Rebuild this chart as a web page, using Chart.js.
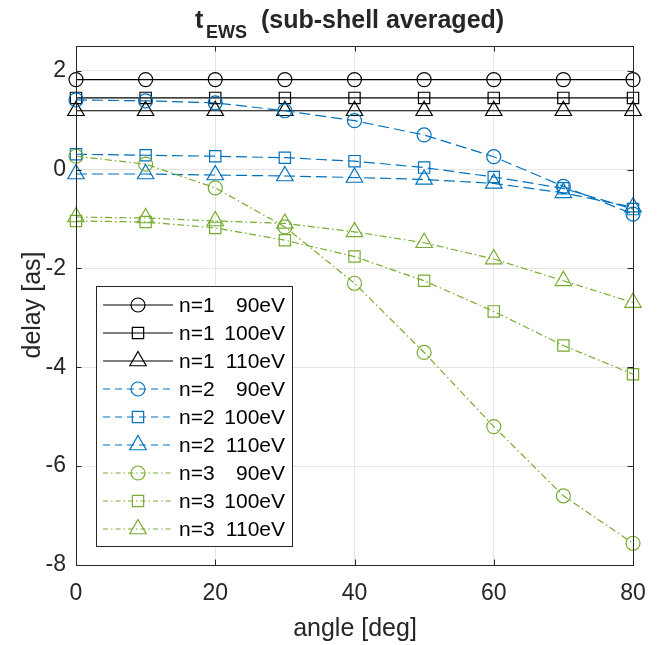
<!DOCTYPE html>
<html>
<head>
<meta charset="utf-8">
<script src="https://cdn.jsdelivr.net/npm/chart.js@4.4.1/dist/chart.umd.min.js"></script>
<style>
  html, body { margin: 0; padding: 0; background: #fff; }
  #chart { display: block; }
</style>
</head>
<body>
<canvas id="chart" width="667" height="645"></canvas>
<script>
// angle [deg]
const angles = [0, 10, 20, 30, 40, 50, 60, 70, 80];

// delay [as]
const n1_90eV  = [1.82, 1.82, 1.82, 1.82, 1.82, 1.82, 1.82, 1.82, 1.82];
const n1_100eV = [1.45, 1.45, 1.45, 1.45, 1.45, 1.45, 1.45, 1.45, 1.45];
const n1_110eV = [1.19, 1.19, 1.19, 1.19, 1.19, 1.19, 1.19, 1.19, 1.19];
const n2_90eV  = [1.41, 1.39, 1.35, 1.19, 0.99, 0.70, 0.26, -0.34, -0.90];
const n2_100eV = [0.31, 0.29, 0.27, 0.24, 0.17, 0.04, -0.15, -0.38, -0.80];
const n2_110eV = [-0.09, -0.09, -0.11, -0.13, -0.16, -0.20, -0.28, -0.47, -0.76];
const n3_90eV  = [0.27, 0.11, -0.37, -1.16, -2.30, -3.70, -5.20, -6.60, -7.56];
const n3_100eV = [-1.04, -1.06, -1.18, -1.43, -1.76, -2.25, -2.87, -3.56, -4.14];
const n3_110eV = [-0.96, -0.98, -1.04, -1.09, -1.26, -1.48, -1.81, -2.25, -2.69];

const seriesNames = ['n=1', 'n=1', 'n=1', 'n=2', 'n=2', 'n=2', 'n=3', 'n=3', 'n=3'];
const seriesEnergies = ['90eV', '100eV', '110eV', '90eV', '100eV', '110eV', '90eV', '100eV', '110eV'];

const xTicks = [0, 20, 40, 60, 80];
const yTicks = [-8, -6, -4, -2, 0, 2];

const BLACK = '#000000';
const BLUE = '#0072BD';
const GREEN = '#77AC30';
const TEXT = '#262626';
const FONT = "'Liberation Sans', Arial, sans-serif";

const styles = [
  { color: BLACK, dash: [], legendDash: [], marker: 'circle' },
  { color: BLACK, dash: [], legendDash: [], marker: 'rect' },
  { color: BLACK, dash: [], legendDash: [], marker: 'triangle' },
  { color: BLUE, dash: [11, 5], legendDash: [7, 5], marker: 'circle' },
  { color: BLUE, dash: [11, 5], legendDash: [7, 5], marker: 'rect' },
  { color: BLUE, dash: [11, 5], legendDash: [7, 5], marker: 'triangle' },
  { color: GREEN, dash: [7, 3, 1.5, 3], legendDash: [5, 3, 1.5, 3], marker: 'circle' },
  { color: GREEN, dash: [7, 3, 1.5, 3], legendDash: [5, 3, 1.5, 3], marker: 'rect' },
  { color: GREEN, dash: [7, 3, 1.5, 3], legendDash: [5, 3, 1.5, 3], marker: 'triangle' }
];

const markerRadius = { circle: 7, rect: 8, triangle: 9.5 };

const allSeries = [n1_90eV, n1_100eV, n1_110eV, n2_90eV, n2_100eV, n2_110eV, n3_90eV, n3_100eV, n3_110eV];

const datasets = allSeries.map((values, i) => ({
  label: `${seriesNames[i]} ${seriesEnergies[i]}`,
  data: values.map((v, k) => ({ x: angles[k], y: v })),
  borderColor: styles[i].color,
  borderWidth: 1.2,
  borderDash: styles[i].dash,
  pointStyle: styles[i].marker,
  pointRadius: markerRadius[styles[i].marker],
  pointHoverRadius: markerRadius[styles[i].marker],
  pointBorderColor: styles[i].color,
  pointBackgroundColor: 'rgba(0,0,0,0)',
  pointBorderWidth: 1.2,
  tension: 0,
  fill: false,
  clip: false,
  order: 9 - i
}));

function drawMarker(ctx, type, x, y, r) {
  ctx.beginPath();
  if (type === 'circle') {
    ctx.arc(x, y, r, 0, Math.PI * 2);
  } else if (type === 'rect') {
    const s = r * Math.SQRT1_2;
    ctx.rect(x - s, y - s, 2 * s, 2 * s);
  } else {
    ctx.moveTo(x, y - r);
    ctx.lineTo(x + r * Math.sin(Math.PI * 2 / 3), y + r / 2);
    ctx.lineTo(x - r * Math.sin(Math.PI * 2 / 3), y + r / 2);
    ctx.closePath();
  }
  ctx.stroke();
}

const decorations = {
  id: 'decorations',
  afterDatasetsDraw(chart) {
    const { ctx, chartArea: a, scales: { x, y } } = chart;
    ctx.save();

    // axes box and inward ticks
    ctx.strokeStyle = TEXT;
    ctx.lineWidth = 1;
    ctx.setLineDash([]);
    ctx.strokeRect(Math.round(a.left) + 0.5, Math.round(a.top) + 0.5,
      Math.round(a.right - a.left), Math.round(a.bottom - a.top));
    const tl = 5.5;
    ctx.beginPath();
    xTicks.forEach(t => {
      const px = Math.round(x.getPixelForValue(t)) + 0.5;
      ctx.moveTo(px, a.bottom); ctx.lineTo(px, a.bottom - tl);
      ctx.moveTo(px, a.top); ctx.lineTo(px, a.top + tl);
    });
    yTicks.forEach(t => {
      const py = Math.round(y.getPixelForValue(t)) + 0.5;
      ctx.moveTo(a.left, py); ctx.lineTo(a.left + tl, py);
      ctx.moveTo(a.right, py); ctx.lineTo(a.right - tl, py);
    });
    ctx.stroke();

    // legend
    const box = { left: 96.5, top: 286.5, right: 292.5, bottom: 546.5 };
    ctx.fillStyle = '#ffffff';
    ctx.fillRect(box.left, box.top, box.right - box.left, box.bottom - box.top);
    ctx.strokeStyle = TEXT;
    ctx.lineWidth = 1;
    ctx.strokeRect(box.left, box.top, box.right - box.left, box.bottom - box.top);
    ctx.font = `21px ${FONT}`;
    ctx.textBaseline = 'middle';
    styles.forEach((st, i) => {
      const ry = 305 + i * 28;
      ctx.strokeStyle = st.color;
      ctx.lineWidth = 1.2;
      ctx.setLineDash(st.legendDash);
      ctx.beginPath();
      ctx.moveTo(103, ry); ctx.lineTo(173, ry);
      ctx.stroke();
      ctx.setLineDash([]);
      drawMarker(ctx, st.marker, 138, ry, markerRadius[st.marker]);
      ctx.fillStyle = '#000000';
      ctx.textAlign = 'left';
      ctx.fillText(seriesNames[i], 179, ry + 1);
      ctx.textAlign = 'right';
      ctx.fillText(seriesEnergies[i], 285, ry + 1);
    });
    ctx.restore();
  },
  afterDraw(chart) {
    const { ctx } = chart;
    ctx.save();
    ctx.fillStyle = TEXT;

    // title with subscript
    ctx.textBaseline = 'alphabetic';
    ctx.textAlign = 'left';
    ctx.font = `bold 25px ${FONT}`;
    ctx.fillText('t', 195, 28);
    ctx.font = `bold 18px ${FONT}`;
    ctx.fillText('EWS', 206, 38);
    ctx.font = `bold 25px ${FONT}`;
    ctx.fillText('(sub-shell averaged)', 261, 28);

    // axis titles
    ctx.font = `25px ${FONT}`;
    ctx.textAlign = 'center';
    ctx.textBaseline = 'middle';
    ctx.fillText('angle [deg]', 355, 629);
    ctx.translate(33, 305);
    ctx.rotate(-Math.PI / 2);
    ctx.fillText('delay [as]', 0, 0);
    ctx.restore();
  }
};

new Chart(document.getElementById('chart'), {
  type: 'line',
  data: { datasets },
  options: {
    responsive: false,
    animation: false,
    events: [],
    layout: { padding: { top: 46, right: 34, left: 0, bottom: 0 } },
    plugins: { legend: { display: false }, tooltip: { enabled: false }, title: { display: false } },
    scales: {
      x: {
        type: 'linear',
        min: 0,
        max: 80,
        afterFit: scale => { scale.height = 80; },
        afterBuildTicks: scale => { scale.ticks = xTicks.map(v => ({ value: v })); },
        ticks: { color: TEXT, font: { family: FONT, size: 23 }, padding: 15, maxRotation: 0 },
        grid: { color: '#e5e5e5', lineWidth: 1, drawTicks: false },
        border: { display: false }
      },
      y: {
        type: 'linear',
        min: -8,
        max: 2.5,
        afterFit: scale => { scale.width = 76; },
        afterBuildTicks: scale => { scale.ticks = yTicks.map(v => ({ value: v })); },
        ticks: { color: TEXT, font: { family: FONT, size: 23 }, padding: 10 },
        grid: { color: '#e5e5e5', lineWidth: 1, drawTicks: false },
        border: { display: false }
      }
    }
  },
  plugins: [decorations]
});
</script>
</body>
</html>
